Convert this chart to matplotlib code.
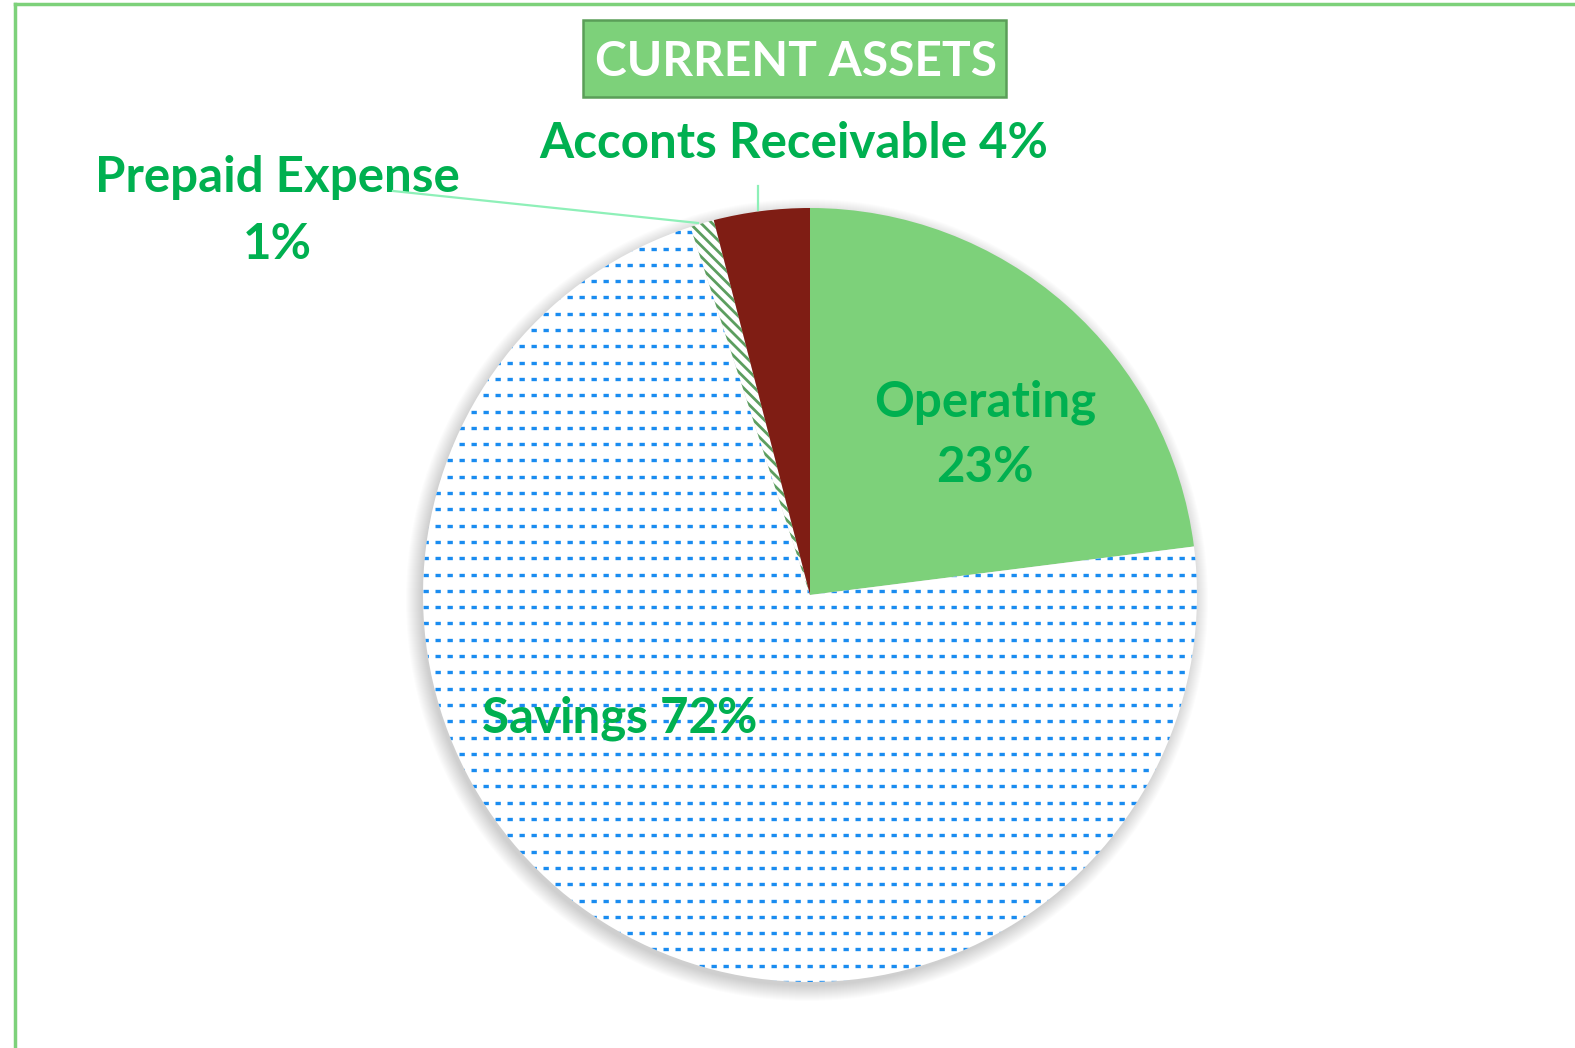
import numpy as np
import matplotlib.pyplot as plt
from matplotlib.patches import Rectangle, Circle
from matplotlib.lines import Line2D

labels = ["Operating", "Savings", "Prepaid Expense", "Acconts Receivable"]
shares = [23, 72, 1, 4]
label_text = ["Operating\n23%", "Savings 72%", "Prepaid Expense\n1%", "Acconts Receivable 4%"]

plt.rcParams["font.family"] = ["Lato", "DejaVu Sans"]
plt.rcParams["hatch.linewidth"] = 2.0

W, H = 1575, 1048
fig = plt.figure(figsize=(W / 100, H / 100), dpi=100)
ax = fig.add_axes([0, 0, 1, 1])

cx, cy, r = 810, H - 595, 387
green_txt = "#00b050"

# soft shadow behind the pie
for k in range(16):
    ax.add_patch(Circle((cx - 3, cy - 5), r + 14 - k, color="#000000",
                        alpha=0.012, lw=0, zorder=0))

wedges, _ = ax.pie(
    shares,
    center=(cx, cy),
    radius=r,
    startangle=90,
    counterclock=False,
    colors=["#7dd17a", "white", "white", "#7f1d14"],
    wedgeprops=dict(linewidth=0),
    frame=True,
)
ax.set_xlim(0, W)
ax.set_ylim(0, H)
ax.set_aspect("equal")
ax.axis("off")

# savings: dotted blue rows
for yy in np.arange(cy - r, cy + r, 16.3):
    ln, = ax.plot([cx - r, cx + r], [yy, yy], color="#1a8cf0", lw=2.4,
                  dashes=(1.6, 2.0), solid_capstyle="butt", zorder=2)
    ln.set_clip_path(wedges[1])

wedges[2].set_hatch("\\\\\\")
wedges[2].set_edgecolor("#5c9e5f")
wedges[2].set_linewidth(0)

# data labels
fs = 35.5
ax.text(985, H - 435, label_text[0], ha="center", va="center", fontsize=fs,
        fontweight="bold", color=green_txt, linespacing=1.55)
ax.text(620, H - 718, label_text[1], ha="center", va="center", fontsize=fs,
        fontweight="bold", color=green_txt, zorder=4)
ax.text(277, H - 211, label_text[2], ha="center", va="center", fontsize=fs,
        fontweight="bold", color=green_txt, linespacing=1.6)
ax.text(794, H - 144, label_text[3], ha="center", va="center", fontsize=fs,
        fontweight="bold", color=green_txt)

# leader lines
ax.plot([393, 698], [H - 191, H - 223], color="#8ef0b8", lw=1.6, zorder=5)
ax.plot([758, 758], [H - 186, H - 210], color="#8ef0b8", lw=1.6, zorder=5)

# title box
ax.add_patch(Rectangle((583, H - 97), 423, 77, facecolor="#7dd17a",
                       edgecolor="#5a9e58", lw=1.8, zorder=6))
ax.text(796, H - 62, "CURRENT ASSETS", ha="center", va="center", fontsize=34.5,
        fontweight="bold", color="white", zorder=7)

# chart border (left and top)
fig.add_artist(Line2D([15 / W, 15 / W], [0, 1 - 4 / H], transform=fig.transFigure,
                      color="#7dd17a", lw=2.5))
fig.add_artist(Line2D([15 / W, 1], [1 - 4 / H, 1 - 4 / H], transform=fig.transFigure,
                      color="#7dd17a", lw=2.5))

fig.savefig("out.png", dpi=100)
